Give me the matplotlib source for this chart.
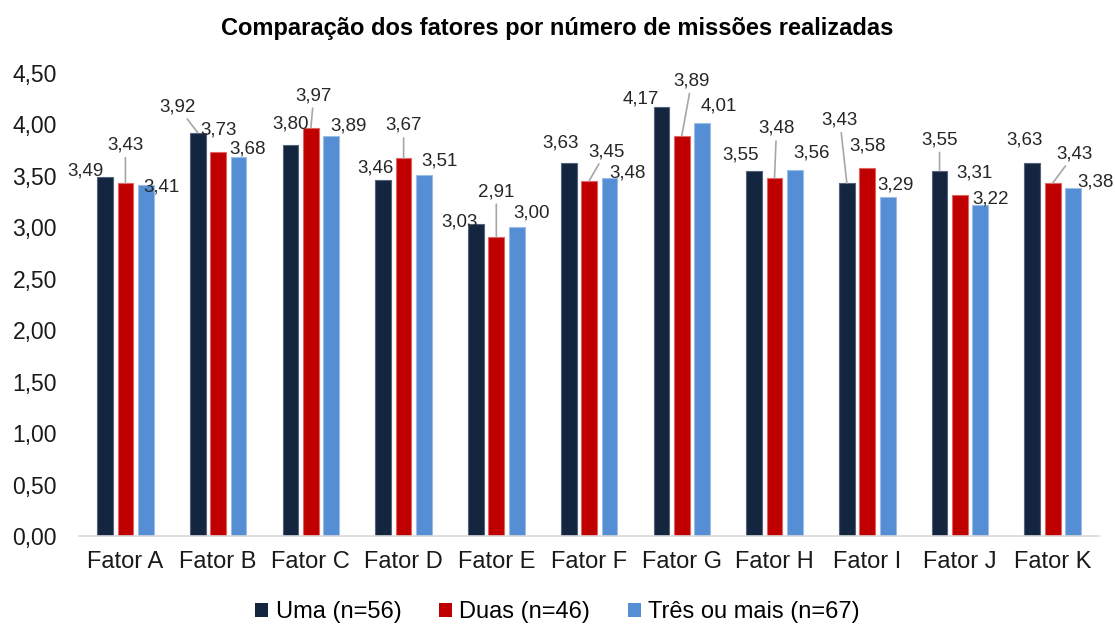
import matplotlib
matplotlib.use("Agg")
import matplotlib.pyplot as plt
from matplotlib.patches import Patch
import numpy as np

plt.rcParams['font.family'] = ['Liberation Sans', 'DejaVu Sans']

# dados
fatores = ['Fator A', 'Fator B', 'Fator C', 'Fator D', 'Fator E', 'Fator F',
           'Fator G', 'Fator H', 'Fator I', 'Fator J', 'Fator K']
uma = [3.49, 3.92, 3.80, 3.46, 3.03, 3.63, 4.17, 3.55, 3.43, 3.55, 3.63]
duas = [3.43, 3.73, 3.97, 3.67, 2.91, 3.45, 3.89, 3.48, 3.58, 3.31, 3.43]
tres = [3.41, 3.68, 3.89, 3.51, 3.00, 3.48, 4.01, 3.56, 3.29, 3.22, 3.38]
series_nomes = ['Uma (n=56)', 'Duas (n=46)', 'Três ou mais (n=67)']
yticks = [0, 0.5, 1, 1.5, 2, 2.5, 3, 3.5, 4, 4.5]

cores = ['#14263F', '#C00000', '#558ED5']
bordas = ['#56627a', '#e06666', '#9cbde6']

# posicao dos rotulos (deslocamento em pixels a partir do topo da barra) e linhas de chamada
desloc_uma = [(-20, 6), (-20, 26), (0, 21), (-8, 11.5), (-16, 2), (-8, 20),
              (-21, 7.5), (-14, 16), (-7, 63), (0, 31), (-8, 22.5)]
desloc_duas = [(0, 38), (0, 22), (3, 32), (0, 33), (0, 45), (17, 29.5),
               (10, 55), (2, 49.5), (0, 21.5), (15, 22), (22, 29.5)]
desloc_tres = [(16, -2), (9, 8), (17, 10), (16, 14), (15, 14), (18, 4.5),
               (17, 17), (17, 17), (8, 12.5), (10, 6), (22, 6.7)]
chamada_uma = [False, True, False, False, False, False, False, False, True, True, False]
chamada_duas = [True, False, True, True, True, True, True, True, False, False, True]

fig = plt.figure(figsize=(11.15, 6.26), dpi=100)
ax = fig.add_axes([0.0709, 0.1438, 0.9148, 0.7396])

x = np.arange(len(fatores))
larg = 0.17
passo = 0.22
todas = [uma, duas, tres]
desl_all = [desloc_uma, desloc_duas, desloc_tres]
cham_all = [chamada_uma, chamada_duas, [False] * len(fatores)]

for i, (vals, cor, borda) in enumerate(zip(todas, cores, bordas)):
    pos = x + (i - 1) * passo
    ax.bar(pos, vals, width=larg, color=cor, edgecolor=borda, linewidth=0.8, zorder=2)
    for j, v in enumerate(vals):
        dx, dy = desl_all[i][j]
        txt = f'{v:.2f}'.replace('.', ',')
        seta = None
        if cham_all[i][j]:
            seta = dict(arrowstyle='-', color='#a6a6a6', lw=1.2, shrinkA=1, shrinkB=0)
        ax.annotate(txt, xy=(pos[j], v), xytext=(dx, dy), textcoords='offset pixels',
                    ha='center', va='center', fontsize=13.5, color='#262626',
                    annotation_clip=False, arrowprops=seta)

ax.set_xlim(-0.5, len(fatores) - 0.5)
ax.set_ylim(0, 4.5)
ax.set_yticks(yticks)
ax.set_yticklabels([f'{t:.2f}'.replace('.', ',') for t in yticks])
ax.set_xticks(x)
ax.set_xticklabels(fatores)
ax.tick_params(axis='y', length=0, pad=16, labelsize=16.5, labelcolor='#1a1a1a')
ax.tick_params(axis='x', length=0, pad=11, labelsize=17, labelcolor='#1a1a1a')
for s in ['top', 'right', 'left']:
    ax.spines[s].set_visible(False)
ax.spines['bottom'].set_color('#d9d9d9')
ax.spines['bottom'].set_linewidth(1.2)

fig.text(0.5, 0.955, 'Comparação dos fatores por número de missões realizadas',
         ha='center', va='center', fontsize=17, fontweight='bold', color='#000000')

handles = [Patch(facecolor=c, edgecolor='none') for c in cores]
fig.legend(handles, series_nomes, loc='center', bbox_to_anchor=(0.5, 0.022), ncol=3,
           frameon=False, fontsize=17, handlelength=0.55, handleheight=0.55,
           handletextpad=0.3, columnspacing=1.6)

fig.savefig('out.png', dpi=100)
